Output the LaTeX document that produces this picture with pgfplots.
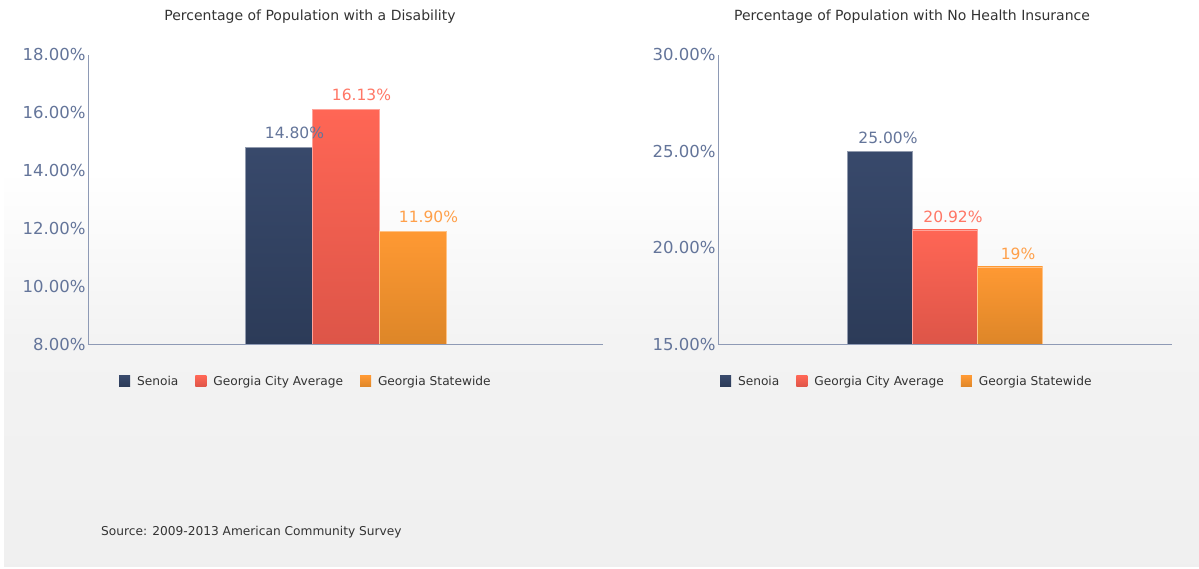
\documentclass[border=0pt]{standalone}
\usepackage{fontspec}
\setmainfont{DejaVu Sans}
\usepackage{pgfplots}
\pgfplotsset{compat=1.18}

\definecolor{senoiaT}{HTML}{38496B}
\definecolor{senoiaB}{HTML}{2C3B58}
\definecolor{cityT}{HTML}{FF6655}
\definecolor{cityB}{HTML}{DD5548}
\definecolor{stateT}{HTML}{FF9933}
\definecolor{stateB}{HTML}{DD8628}
\definecolor{tickc}{HTML}{64759A}
\definecolor{axisc}{HTML}{8E9AB5}
\definecolor{titlec}{HTML}{333333}
\definecolor{bgbot}{HTML}{EBEBEB}
\definecolor{lblcity}{HTML}{FF7766}
\definecolor{lblstate}{HTML}{FFA04A}

\pgfdeclareverticalshading{panelbg}{100bp}{color(0bp)=(bgbot); color(45bp)=(white!40!bgbot); color(60bp)=(white); color(100bp)=(white)}

\pgfplotsset{
  barpanel/.style={
    scale only axis, height=289pt, anchor=south west,
    axis x line=bottom, axis y line=left,
    axis line style={draw=axisc, line width=0.9pt, -},
    xmin=-1, xmax=1, xtick=\empty, major tick length=0pt,
    ybar=0pt,
    /pgf/number format/assume math mode=true,
    yticklabel={\pgfmathprintnumber[fixed,fixed zerofill,precision=2]{\tick}\%},
    y tick label style={font=\fontsize{16.5}{16.5}\selectfont, text=tickc, xshift=1pt},
    legend style={draw=none, fill=none, legend columns=-1, inner sep=0pt,
      font=\fontsize{12.2}{13}\selectfont, text=titlec,
      /tikz/every odd column/.append style={column sep=5pt},
      /tikz/every even column/.append style={column sep=15pt}},
    legend image code/.code={\draw[#1, draw=none] (0pt,-5pt) rectangle (11pt,6pt);},
    every node near coord/.append style={font=\fontsize{15.5}{15.5}\selectfont, anchor=south},
  },
  sen/.style={draw=senoiaT!55!white, line width=0.6pt, top color=senoiaT, bottom color=senoiaB},
  cit/.style={draw=cityT!60!white, line width=0.6pt, top color=cityT, bottom color=cityB},
  sta/.style={draw=stateT!60!white, line width=0.6pt, top color=stateT, bottom color=stateB},
}

\begin{document}
\begin{tikzpicture}
\path (0pt,0pt) rectangle (1199pt,569pt);
\shade[shading=panelbg] (4pt,2pt) rectangle (1199pt,569pt);

\node[font=\fontsize{14}{14}\selectfont, text=titlec] at (310pt,552pt) {Percentage of Population with a Disability};
\node[font=\fontsize{14}{14}\selectfont, text=titlec] at (912pt,552pt) {Percentage of Population with No Health Insurance};
\node[font=\fontsize{12.2}{12.2}\selectfont, text=titlec, anchor=west, inner sep=0pt] at (101pt,37pt) {Source: 2009-2013 American Community Survey};

% left panel
\begin{axis}[barpanel, at={(88pt,225pt)}, width=515pt, bar width=67pt,
    ymin=8, ymax=18, ytick={8,10,12,14,16,18},
    every node near coord/.append style={xshift=16pt, yshift=5pt},
    legend style={at={(axis description cs:0.06,-0.131)}, anchor=west}]
\addplot[sen, nodes near coords={14.80\%}, every node near coord/.append style={text=tickc}] coordinates {(0,14.80)};
\addlegendentry{Senoia}
\addplot[cit, nodes near coords={16.13\%}, every node near coord/.append style={text=lblcity}] coordinates {(0,16.13)};
\addlegendentry{Georgia City Average}
\addplot[sta, nodes near coords={11.90\%}, every node near coord/.append style={text=lblstate}] coordinates {(0,11.90)};
\addlegendentry{Georgia Statewide}
\end{axis}

% right panel
\begin{axis}[barpanel, at={(718pt,225pt)}, width=454pt, bar width=65pt,
    ymin=15, ymax=30, ytick={15,20,25,30},
    every node near coord/.append style={xshift=8pt, yshift=4pt},
    legend style={at={(axis description cs:0.004,-0.131)}, anchor=west}]
\addplot[sen, nodes near coords={25.00\%}, every node near coord/.append style={text=tickc}] coordinates {(0,25.00)};
\addlegendentry{Senoia}
\addplot[cit, nodes near coords={20.92\%}, every node near coord/.append style={text=lblcity}] coordinates {(0,20.92)};
\addlegendentry{Georgia City Average}
\addplot[sta, nodes near coords={19\%}, every node near coord/.append style={text=lblstate}] coordinates {(0,19)};
\addlegendentry{Georgia Statewide}
\end{axis}
\end{tikzpicture}
\end{document}
